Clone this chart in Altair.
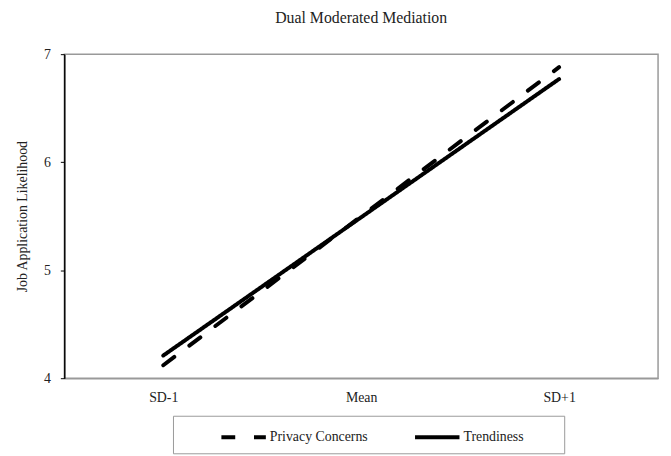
import altair as alt
import pandas as pd

levels = ["SD-1", "Mean", "SD+1"]
privacy = [4.12, 5.50, 6.88]
trendiness = [4.21, 5.49, 6.77]
series_names = ["Privacy Concerns", "Trendiness"]

rows = []
for lvl, p, t in zip(levels, privacy, trendiness):
    rows.append({"level": lvl, "value": p, "series": series_names[0]})
    rows.append({"level": lvl, "value": t, "series": series_names[1]})
df = pd.DataFrame(rows)

FONT = "Liberation Serif"

chart = alt.Chart(df).mark_line(strokeWidth=4, strokeCap="round", color="black").encode(
    x=alt.X("level:N", sort=levels, title=None,
            scale=alt.Scale(type="point", padding=0.5),
            axis=alt.Axis(labelAngle=0, ticks=False, domainColor="#999999", domainWidth=1.5,
                          labelFontSize=14, labelFont=FONT, labelColor="#222222", labelPadding=13)),
    y=alt.Y("value:Q", title="Job Application Likelihood",
            scale=alt.Scale(domain=[4, 7], nice=False, zero=False),
            axis=alt.Axis(values=[4, 5, 6, 7], format="d", grid=False, domainColor="black",
                          domainWidth=1.5, tickColor="black", tickSize=4, labelFontSize=14,
                          labelFont=FONT, labelColor="#222222", titleFont=FONT, titleFontSize=14,
                          titleFontWeight="normal", titleColor="#222222", titlePadding=14, labelPadding=10)),
    strokeDash=alt.StrokeDash("series:N", sort=series_names,
                              scale=alt.Scale(domain=series_names, range=[[14, 19], [1, 0]]),
                              legend=alt.Legend(title=".", titleOrient="right", titlePadding=30,
                                                titleColor="white", titleFontSize=10,
                                                orient="none", legendX=110, legendY=366,
                                                direction="horizontal", symbolType="M-2,0H2",
                                                symbolStrokeWidth=4, symbolSize=506,
                                                symbolStrokeColor="black", labelFont=FONT,
                                                labelFontSize=14, labelColor="#222222",
                                                columnPadding=6, padding=8,
                                                strokeColor="#999999", fillColor="white",
                                                symbolOffset=50, labelOffset=13)),
    detail="series:N",
).properties(
    width=601, height=328,
    title=alt.TitleParams("Dual Moderated Mediation", font=FONT, fontSize=16,
                          fontWeight="normal", color="#222222", anchor="middle", offset=22),
    autosize=alt.AutoSizeParams(type="none"),
    padding={"left": 57, "top": 44, "right": 5, "bottom": 76},
).configure_view(stroke="#999999", strokeWidth=1.5)

chart.save("out.html", embed_options={"renderer": "svg", "actions": False})
